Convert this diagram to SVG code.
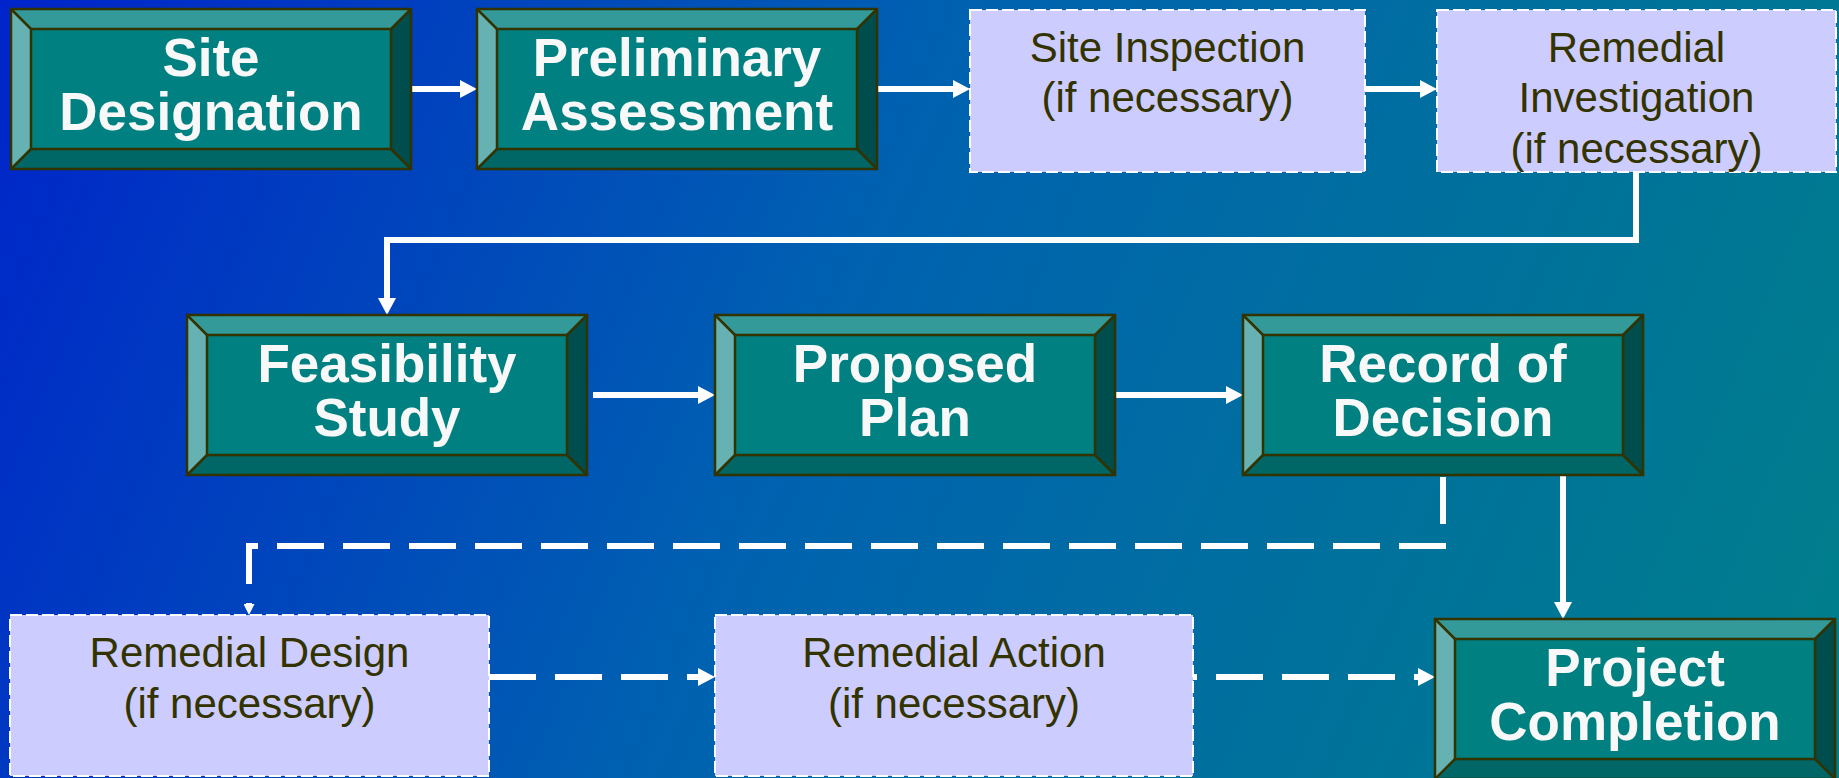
<svg xmlns="http://www.w3.org/2000/svg" xmlns:xlink="http://www.w3.org/1999/xlink" width="1839" height="778" viewBox="0 0 1839 778">
  <defs>
    <linearGradient id="bg" gradientUnits="userSpaceOnUse" x1="0" y1="0" x2="1839" y2="778">
      <stop offset="0" stop-color="#0024ca"/>
      <stop offset="0.45" stop-color="#0062b0"/>
      <stop offset="1" stop-color="#007f8a"/>
    </linearGradient>
    <g id="bevel">
      <polygon points="0,0 400,0 380,20 20,20" fill="#339999"/>
      <polygon points="0,0 20,20 20,140 0,160" fill="#66b2b2"/>
      <polygon points="400,0 400,160 380,140 380,20" fill="#004d4d"/>
      <polygon points="0,160 20,140 380,140 400,160" fill="#006666"/>
      <rect x="20" y="20" width="360" height="120" fill="#008080"/>
      <g fill="none" stroke="#333300" stroke-width="2.5" stroke-linejoin="miter">
        <rect x="0" y="0" width="400" height="160"/>
        <rect x="20" y="20" width="360" height="120"/>
        <path d="M0,0 L20,20 M400,0 L380,20 M400,160 L380,140 M0,160 L20,140"/>
      </g>
    </g>
    <marker id="arr" viewBox="0 0 17 18" refX="7" refY="9" markerWidth="17" markerHeight="18" markerUnits="userSpaceOnUse" orient="auto">
      <path d="M0,0 L17,9 L0,18 z" fill="#ffffff"/>
    </marker>
    <marker id="arrs" viewBox="0 0 11 11" refX="4" refY="5.5" markerWidth="11" markerHeight="11" markerUnits="userSpaceOnUse" orient="auto">
      <path d="M0,0 L11,5.5 L0,11 z" fill="#ffffff"/>
    </marker>
    <style>
      .tt { font-family: "Liberation Sans", Arial, sans-serif; font-weight: bold; font-size: 53px; fill: #f8f8f8; text-anchor: middle; }
      .lt { font-family: "Liberation Sans", Arial, sans-serif; font-size: 42px; fill: #333300; text-anchor: middle; }
      .lav { fill: #ccccff; stroke: #ffffff; stroke-width: 2; stroke-dasharray: 12 4; }
      .c { fill: none; stroke: #ffffff; stroke-width: 6; stroke-linejoin: miter; }
      .d { stroke-dasharray: 47 19; }
    </style>
  </defs>

  <rect x="0" y="0" width="1839" height="778" fill="url(#bg)"/>

  <g id="connectors">
    <path class="c" d="M411,89 H467" marker-end="url(#arr)"/>
    <path class="c" d="M878,89 H960" marker-end="url(#arr)"/>
    <path class="c" d="M1365,89 H1427" marker-end="url(#arr)"/>
    <path class="c" d="M1636,172 V240 H387 V305" marker-end="url(#arr)"/>
    <path class="c" d="M593,395 H705" marker-end="url(#arr)"/>
    <path class="c" d="M1116,395 H1233" marker-end="url(#arr)"/>
    <path class="c d" d="M1443,477 V546 H249 V608" marker-end="url(#arrs)"/>
    <path class="c" d="M1563,476 V609" marker-end="url(#arr)"/>
    <path class="c d" d="M489,677 H705" marker-end="url(#arr)"/>
    <path class="c d" style="stroke-dashoffset:43" d="M1193,677 H1425" marker-end="url(#arr)"/>
  </g>

  <g id="site-designation">
    <use xlink:href="#bevel" transform="translate(11,9)"/>
    <text class="tt" x="211" y="76">Site</text>
    <text class="tt" x="211" y="130">Designation</text>
  </g>

  <g id="preliminary-assessment">
    <use xlink:href="#bevel" transform="translate(477,9)"/>
    <text class="tt" x="677" y="76">Preliminary</text>
    <text class="tt" x="677" y="130">Assessment</text>
  </g>

  <g id="site-inspection">
    <rect class="lav" x="970" y="10" width="395" height="162"/>
    <text class="lt" x="1167.5" y="62">Site Inspection</text>
    <text class="lt" x="1167.5" y="112">(if necessary)</text>
  </g>

  <g id="remedial-investigation">
    <rect class="lav" x="1437" y="10" width="399" height="162"/>
    <text class="lt" x="1636.5" y="62">Remedial</text>
    <text class="lt" x="1636.5" y="112">Investigation</text>
    <text class="lt" x="1636.5" y="163">(if necessary)</text>
  </g>

  <g id="feasibility-study">
    <use xlink:href="#bevel" transform="translate(187,315)"/>
    <text class="tt" x="387" y="382">Feasibility</text>
    <text class="tt" x="387" y="436">Study</text>
  </g>

  <g id="proposed-plan">
    <use xlink:href="#bevel" transform="translate(715,315)"/>
    <text class="tt" x="915" y="382">Proposed</text>
    <text class="tt" x="915" y="436">Plan</text>
  </g>

  <g id="record-of-decision">
    <use xlink:href="#bevel" transform="translate(1243,315)"/>
    <text class="tt" x="1443" y="382">Record of</text>
    <text class="tt" x="1443" y="436">Decision</text>
  </g>

  <g id="remedial-design">
    <rect class="lav" x="10" y="615" width="479" height="161"/>
    <text class="lt" x="249.5" y="667">Remedial Design</text>
    <text class="lt" x="249.5" y="718">(if necessary)</text>
  </g>

  <g id="remedial-action">
    <rect class="lav" x="715" y="615" width="478" height="161"/>
    <text class="lt" x="954" y="667">Remedial Action</text>
    <text class="lt" x="954" y="718">(if necessary)</text>
  </g>

  <g id="project-completion">
    <use xlink:href="#bevel" transform="translate(1435,619)"/>
    <text class="tt" x="1635" y="686">Project</text>
    <text class="tt" x="1635" y="740">Completion</text>
  </g>
</svg>
